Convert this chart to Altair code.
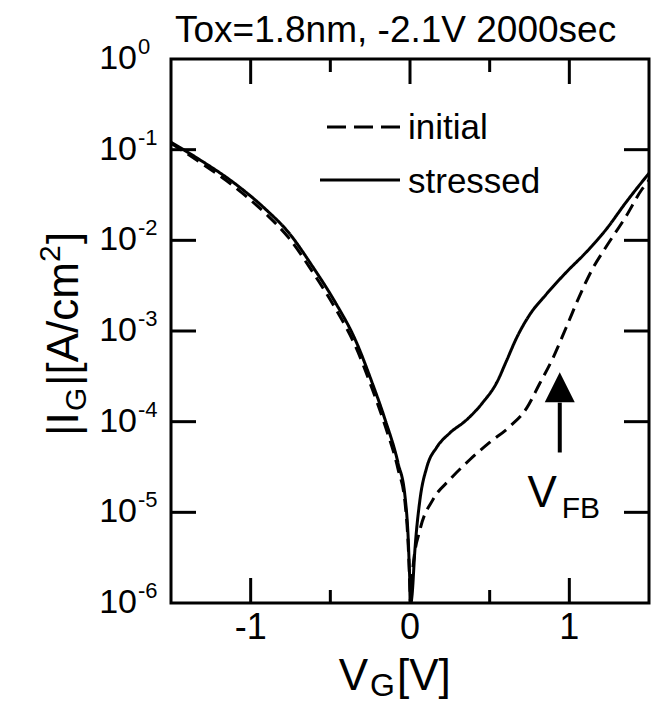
import altair as alt
import pandas as pd

FONT = "Liberation Sans"
W, H = 478, 544  # plot area in px

# Gate current density |I_G| [A/cm^2] versus gate voltage V_G [V]
vg_initial = [-1.5, -1.325, -1.11, -0.906, -0.762, -0.612, -0.469, -0.344, -0.238,
              -0.156, -0.075, -0.031, -0.012, 0.0, 0.003,
              0.019, 0.0625, 0.144, 0.25, 0.375, 0.5, 0.625, 0.731, 0.8125,
              0.894, 0.981, 1.0625, 1.144, 1.231, 1.356, 1.456, 1.5]
ig_initial = [0.118, 0.074, 0.040, 0.0197, 0.0107, 0.0045, 0.00178, 0.00069, 0.000232,
              9.0e-5, 3.0e-5, 1.27e-5, 4.6e-6, 1.4e-6, 1.0e-6,
              2.5e-6, 6.4e-6, 1.38e-5, 2.3e-5, 3.8e-5, 5.9e-5, 8.8e-5, 1.4e-4, 2.6e-4,
              4.9e-4, 1.1e-3, 2.4e-3, 4.8e-3, 8.5e-3, 0.0184, 0.0366, 0.046]

vg_stressed = [-1.5, -1.325, -1.11, -0.906, -0.762, -0.612, -0.469, -0.344, -0.238,
               -0.156, -0.075, -0.031, -0.012, 0.0, 0.006,
               0.0125, 0.031, 0.0625, 0.106, 0.169, 0.25, 0.356, 0.456, 0.544,
               0.606, 0.669, 0.75, 0.856, 0.981, 1.106, 1.231, 1.356, 1.5]
ig_stressed = [0.121, 0.0785, 0.0437, 0.022, 0.0122, 0.00516, 0.00207, 0.000805, 0.00027,
               0.000105, 3.5e-5, 1.48e-5, 5.5e-6, 1.6e-6, 1.0e-6,
               1.2e-6, 3.9e-6, 1.38e-5, 3.17e-5, 5.25e-5, 7.5e-5, 1.05e-4, 1.62e-4, 2.69e-4,
               4.7e-4, 8.4e-4, 1.5e-3, 2.55e-3, 4.45e-3, 7.4e-3, 0.0132, 0.0263, 0.055]

series_names = ["initial", "stressed"]

# axis ticks and labels
x_major = [-1, 0, 1]
x_major_labels = ["-1", "0", "1"]
x_minor = [-0.5, 0.5]
y_exponents = [0, -1, -2, -3, -4, -5, -6]
y_inner_exponents = [-1, -2, -3, -4, -5]

# flat-band voltage marker
vfb_vg = 0.94
vfb_tail, vfb_head_base, vfb_head_mid = 10 ** -4.34, 10 ** -3.79, 10 ** -3.62
vfb_label_ig = 10 ** -4.94

title_text = "Tox=1.8nm, -2.1V 2000sec"

x_scale = alt.Scale(domain=[-1.5, 1.5], nice=False, zero=False)
y_scale = alt.Scale(type="log", domain=[1e-6, 1], nice=False)

curves_df = pd.concat([
    pd.DataFrame({"vg": vg_initial, "ig": ig_initial, "series": series_names[0]}),
    pd.DataFrame({"vg": vg_stressed, "ig": ig_stressed, "series": series_names[1]}),
])

curves = alt.Chart(curves_df).mark_line(
    color="black", strokeWidth=3, clip=True, interpolate="monotone"
).encode(
    x=alt.X("vg:Q", scale=x_scale, axis=None),
    y=alt.Y("ig:Q", scale=y_scale, axis=None),
    strokeDash=alt.StrokeDash(
        "series:N",
        scale=alt.Scale(domain=series_names, range=[[13, 7], [1, 0]]),
        legend=None,
    ),
    detail="series:N",
)

# inward ticks on all four sides
ydec = pd.DataFrame({"ig": [10.0 ** e for e in y_inner_exponents]})
xmaj = pd.DataFrame({"vg": x_major, "lab": x_major_labels})
xmin = pd.DataFrame({"vg": x_minor})

rule = dict(color="black", strokeWidth=3)
y_enc = alt.Y("ig:Q", scale=y_scale, axis=None)
x_enc = alt.X("vg:Q", scale=x_scale, axis=None)

ticks = [
    alt.Chart(ydec).mark_rule(**rule).encode(y=y_enc, x=alt.value(0), x2=alt.value(25)),
    alt.Chart(ydec).mark_rule(**rule).encode(y=y_enc, x=alt.value(W - 25), x2=alt.value(W)),
    alt.Chart(xmaj).mark_rule(**rule).encode(x=x_enc, y=alt.value(0), y2=alt.value(25)),
    alt.Chart(xmin).mark_rule(**rule).encode(x=x_enc, y=alt.value(0), y2=alt.value(13)),
    alt.Chart(xmaj).mark_rule(**rule).encode(x=x_enc, y=alt.value(H - 25), y2=alt.value(H)),
    alt.Chart(xmin).mark_rule(**rule).encode(x=x_enc, y=alt.value(H - 13), y2=alt.value(H)),
]

# tick labels: powers of ten with raised exponents
ylab = pd.DataFrame({
    "ig": [10.0 ** e for e in y_exponents],
    "base": ["10"] * len(y_exponents),
    "exp": [str(e) for e in y_exponents],
})
y_base = alt.Chart(ylab).mark_text(
    font=FONT, fontSize=34, align="right", baseline="middle"
).encode(y=y_enc, x=alt.value(-34), text="base:N")
y_exp = alt.Chart(ylab).mark_text(
    font=FONT, fontSize=22, align="left", baseline="alphabetic", dy=-5
).encode(y=y_enc, x=alt.value(-33), text="exp:N")
x_lab = alt.Chart(xmaj).mark_text(
    font=FONT, fontSize=36, align="center", baseline="middle"
).encode(x=x_enc, y=alt.value(H + 25), text="lab:N")

# V_FB arrow
arrow_df = pd.DataFrame({"vg": [vfb_vg], "lo": [vfb_tail], "hi": [vfb_head_base],
                         "mid": [vfb_head_mid], "lab": [vfb_label_ig]})
arrow_shaft = alt.Chart(arrow_df).mark_rule(color="black", strokeWidth=4).encode(
    x=x_enc, y=alt.Y("lo:Q", scale=y_scale, axis=None), y2="hi:Q"
)
arrow_head = alt.Chart(arrow_df).mark_point(
    shape="M0,-1L1,1L-1,1Z", size=900, filled=True, color="black", opacity=1, strokeWidth=0
).encode(x=x_enc, y=alt.Y("mid:Q", scale=y_scale, axis=None))
vfb_v = alt.Chart(arrow_df).mark_text(
    text="V", font=FONT, fontSize=44, align="right", baseline="alphabetic", dx=-3
).encode(x=x_enc, y=alt.Y("lab:Q", scale=y_scale, axis=None))
vfb_sub = alt.Chart(arrow_df).mark_text(
    text="FB", font=FONT, fontSize=30, align="left", baseline="alphabetic", dx=2, dy=11
).encode(x=x_enc, y=alt.Y("lab:Q", scale=y_scale, axis=None))


def label(text, x, y, size, align="left", baseline="alphabetic", angle=0, dx=0, dy=0):
    return alt.Chart(pd.DataFrame({"t": [text]})).mark_text(
        font=FONT, fontSize=size, align=align, baseline=baseline,
        angle=angle, dx=dx, dy=dy, color="black"
    ).encode(text="t:N", x=alt.value(x), y=alt.value(y))


# legend
legend = [
    alt.Chart(pd.DataFrame({"s": [series_names[0]]})).mark_rule(
        color="black", strokeWidth=3, strokeDash=[19, 8]
    ).encode(x=alt.value(156), x2=alt.value(229), y=alt.value(68)),
    alt.Chart(pd.DataFrame({"s": [series_names[1]]})).mark_rule(
        color="black", strokeWidth=3
    ).encode(x=alt.value(149), x2=alt.value(229), y=alt.value(121)),
    label(series_names[0], 237, 80, 35),
    label(series_names[1], 237, 134, 35),
]

# title and axis titles
texts = [
    label(title_text, 4, -17, 37),
    # x axis: V_G[V]
    label("V", 197, 631, 44, align="right"),
    label("G", 199, 631, 32, dy=6),
    label("[V]", 226, 631, 44),
    # y axis: |I_G|[A/cm^2], rotated
    label("|I", -93, 377, 44, angle=270),
    label("G", -93, 377, 30, angle=270, dx=25, dy=8),
    label("|[A/cm", -93, 377, 44, angle=270, dx=50),
    label("2", -93, 377, 30, angle=270, dx=50 + 124, dy=-18),
    label("]", -93, 377, 44, angle=270, dx=50 + 124 + 18),
]

chart = alt.layer(
    curves, *ticks, y_base, y_exp, x_lab,
    arrow_shaft, arrow_head, vfb_v, vfb_sub,
    *legend, *texts
).properties(
    width=W, height=H,
    autosize=alt.AutoSizeParams(type="none"),
    padding={"left": 171, "top": 59, "right": 9, "bottom": 101},
    background="white",
).configure_view(stroke="black", strokeWidth=3)

chart.save("out.html", embed_options={"renderer": "svg", "actions": False})
